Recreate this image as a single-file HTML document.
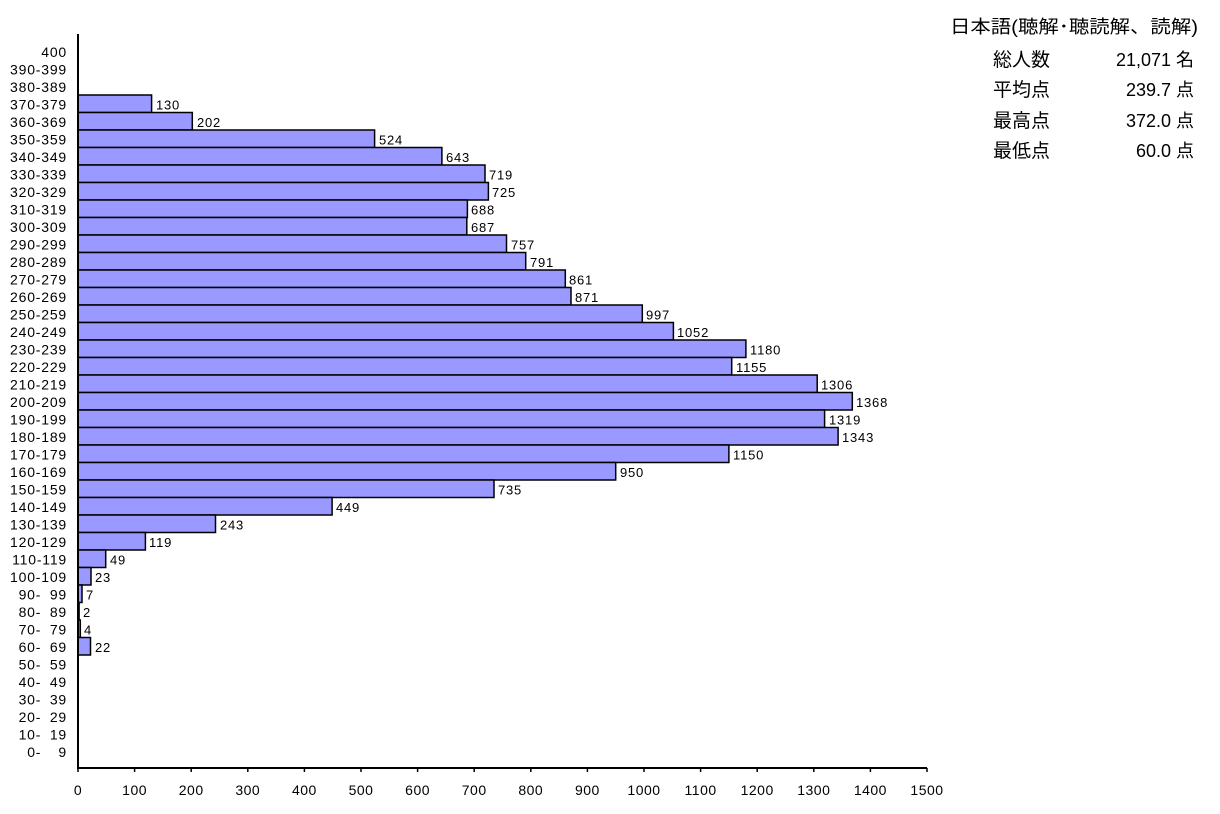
<!DOCTYPE html>
<html><head><meta charset="utf-8"><style>
html,body{margin:0;padding:0;background:#fff;}
svg{display:block;}
.l{font-family:"Liberation Sans","Noto Sans CJK JP",sans-serif;font-size:14px;letter-spacing:0.8px;fill:#000;}
.v{font-family:"Liberation Sans",sans-serif;font-size:13px;letter-spacing:0.8px;fill:#000;}
.t{font-family:"Liberation Sans",sans-serif;font-size:14px;letter-spacing:0.5px;fill:#000;}
.j{font-family:"Liberation Sans","Noto Sans CJK JP",sans-serif;font-size:18px;fill:#000;}
.k{font-family:"Liberation Sans","Noto Sans CJK JP",sans-serif;font-size:19px;fill:#000;}
rect{fill:#9999ff;stroke:#000;stroke-width:1.5;}
</style></head><body>
<svg width="1220" height="814" xmlns="http://www.w3.org/2000/svg">
<g class="l" text-anchor="end">
<text x="67" y="57">400</text>
<text x="67" y="74.5">390-399</text>
<text x="67" y="92">380-389</text>
<text x="67" y="109.5">370-379</text>
<text x="67" y="127">360-369</text>
<text x="67" y="144.5">350-359</text>
<text x="67" y="162">340-349</text>
<text x="67" y="179.5">330-339</text>
<text x="67" y="197">320-329</text>
<text x="67" y="214.5">310-319</text>
<text x="67" y="232">300-309</text>
<text x="67" y="249.5">290-299</text>
<text x="67" y="267">280-289</text>
<text x="67" y="284.5">270-279</text>
<text x="67" y="302">260-269</text>
<text x="67" y="319.5">250-259</text>
<text x="67" y="337">240-249</text>
<text x="67" y="354.5">230-239</text>
<text x="67" y="372">220-229</text>
<text x="67" y="389.5">210-219</text>
<text x="67" y="407">200-209</text>
<text x="67" y="424.5">190-199</text>
<text x="67" y="442">180-189</text>
<text x="67" y="459.5">170-179</text>
<text x="67" y="477">160-169</text>
<text x="67" y="494.5">150-159</text>
<text x="67" y="512">140-149</text>
<text x="67" y="529.5">130-139</text>
<text x="67" y="547">120-129</text>
<text x="67" y="564.5">110-119</text>
<text x="67" y="582">100-109</text>
<text x="67" y="599.5">90-&#8199;99</text>
<text x="67" y="617">80-&#8199;89</text>
<text x="67" y="634.5">70-&#8199;79</text>
<text x="67" y="652">60-&#8199;69</text>
<text x="67" y="669.5">50-&#8199;59</text>
<text x="67" y="687">40-&#8199;49</text>
<text x="67" y="704.5">30-&#8199;39</text>
<text x="67" y="722">20-&#8199;29</text>
<text x="67" y="739.5">10-&#8199;19</text>
<text x="67" y="757">0-&#8199;&#8199;9</text>
</g>
<g>
<rect x="78" y="95" width="73.6" height="17.5"/>
<rect x="78" y="112.5" width="114.3" height="17.5"/>
<rect x="78" y="130" width="296.6" height="17.5"/>
<rect x="78" y="147.5" width="363.9" height="17.5"/>
<rect x="78" y="165" width="407" height="17.5"/>
<rect x="78" y="182.5" width="410.4" height="17.5"/>
<rect x="78" y="200" width="389.4" height="17.5"/>
<rect x="78" y="217.5" width="388.8" height="17.5"/>
<rect x="78" y="235" width="428.5" height="17.5"/>
<rect x="78" y="252.5" width="447.7" height="17.5"/>
<rect x="78" y="270" width="487.3" height="17.5"/>
<rect x="78" y="287.5" width="493" height="17.5"/>
<rect x="78" y="305" width="564.3" height="17.5"/>
<rect x="78" y="322.5" width="595.4" height="17.5"/>
<rect x="78" y="340" width="667.9" height="17.5"/>
<rect x="78" y="357.5" width="653.7" height="17.5"/>
<rect x="78" y="375" width="739.2" height="17.5"/>
<rect x="78" y="392.5" width="774.3" height="17.5"/>
<rect x="78" y="410" width="746.6" height="17.5"/>
<rect x="78" y="427.5" width="760.1" height="17.5"/>
<rect x="78" y="445" width="650.9" height="17.5"/>
<rect x="78" y="462.5" width="537.7" height="17.5"/>
<rect x="78" y="480" width="416" height="17.5"/>
<rect x="78" y="497.5" width="254.1" height="17.5"/>
<rect x="78" y="515" width="137.5" height="17.5"/>
<rect x="78" y="532.5" width="67.4" height="17.5"/>
<rect x="78" y="550" width="27.7" height="17.5"/>
<rect x="78" y="567.5" width="13" height="17.5"/>
<rect x="78" y="585" width="4" height="17.5"/>
<rect x="78" y="602.5" width="1.1" height="17.5"/>
<rect x="78" y="620" width="2.3" height="17.5"/>
<rect x="78" y="637.5" width="12.5" height="17.5"/>
</g>
<g class="v">
<text x="156" y="109.5">130</text>
<text x="197" y="127">202</text>
<text x="379" y="144.5">524</text>
<text x="446" y="162">643</text>
<text x="489" y="179.5">719</text>
<text x="492" y="197">725</text>
<text x="471" y="214.5">688</text>
<text x="471" y="232">687</text>
<text x="511" y="249.5">757</text>
<text x="530" y="267">791</text>
<text x="569" y="284.5">861</text>
<text x="575" y="302">871</text>
<text x="646" y="319.5">997</text>
<text x="677" y="337">1052</text>
<text x="750" y="354.5">1180</text>
<text x="736" y="372">1155</text>
<text x="821" y="389.5">1306</text>
<text x="856" y="407">1368</text>
<text x="829" y="424.5">1319</text>
<text x="842" y="442">1343</text>
<text x="733" y="459.5">1150</text>
<text x="620" y="477">950</text>
<text x="498" y="494.5">735</text>
<text x="336" y="512">449</text>
<text x="220" y="529.5">243</text>
<text x="149" y="547">119</text>
<text x="110" y="564.5">49</text>
<text x="95" y="582">23</text>
<text x="86" y="599.5">7</text>
<text x="83" y="617">2</text>
<text x="84" y="634.5">4</text>
<text x="95" y="652">22</text>
</g>
<line x1="78" y1="34" x2="78" y2="768" stroke="#000" stroke-width="2"/>
<line x1="77" y1="768" x2="927" y2="768" stroke="#000" stroke-width="2"/>
<g stroke="#000" stroke-width="1.5">
<line x1="78" y1="768" x2="78" y2="772"/><line x1="134.6" y1="768" x2="134.6" y2="772"/><line x1="191.2" y1="768" x2="191.2" y2="772"/><line x1="247.8" y1="768" x2="247.8" y2="772"/><line x1="304.4" y1="768" x2="304.4" y2="772"/><line x1="361" y1="768" x2="361" y2="772"/><line x1="417.6" y1="768" x2="417.6" y2="772"/><line x1="474.2" y1="768" x2="474.2" y2="772"/><line x1="530.8" y1="768" x2="530.8" y2="772"/><line x1="587.4" y1="768" x2="587.4" y2="772"/><line x1="644" y1="768" x2="644" y2="772"/><line x1="700.6" y1="768" x2="700.6" y2="772"/><line x1="757.2" y1="768" x2="757.2" y2="772"/><line x1="813.8" y1="768" x2="813.8" y2="772"/><line x1="870.4" y1="768" x2="870.4" y2="772"/><line x1="927" y1="768" x2="927" y2="772"/>
</g>
<g class="t" text-anchor="middle">
<text x="78" y="795">0</text><text x="134.6" y="795">100</text><text x="191.2" y="795">200</text><text x="247.8" y="795">300</text><text x="304.4" y="795">400</text><text x="361" y="795">500</text><text x="417.6" y="795">600</text><text x="474.2" y="795">700</text><text x="530.8" y="795">800</text><text x="587.4" y="795">900</text><text x="644" y="795">1000</text><text x="700.6" y="795">1100</text><text x="757.2" y="795">1200</text><text x="813.8" y="795">1300</text><text x="870.4" y="795">1400</text><text x="927" y="795">1500</text>
</g>
<text class="j" x="950" y="33" textLength="248" lengthAdjust="spacingAndGlyphs">日本語(聴解･聴読解、読解)</text>
<g class="k">
<text x="993" y="66">総人数</text>
<text x="993" y="96">平均点</text>
<text x="993" y="127">最高点</text>
<text x="993" y="157">最低点</text>
</g>
<g class="j" text-anchor="end">
<text x="1194" y="66">21,071 名</text>
<text x="1194" y="96">239.7 点</text>
<text x="1194" y="127">372.0 点</text>
<text x="1194" y="157">60.0 点</text>
</g>
</svg>
</body></html>
